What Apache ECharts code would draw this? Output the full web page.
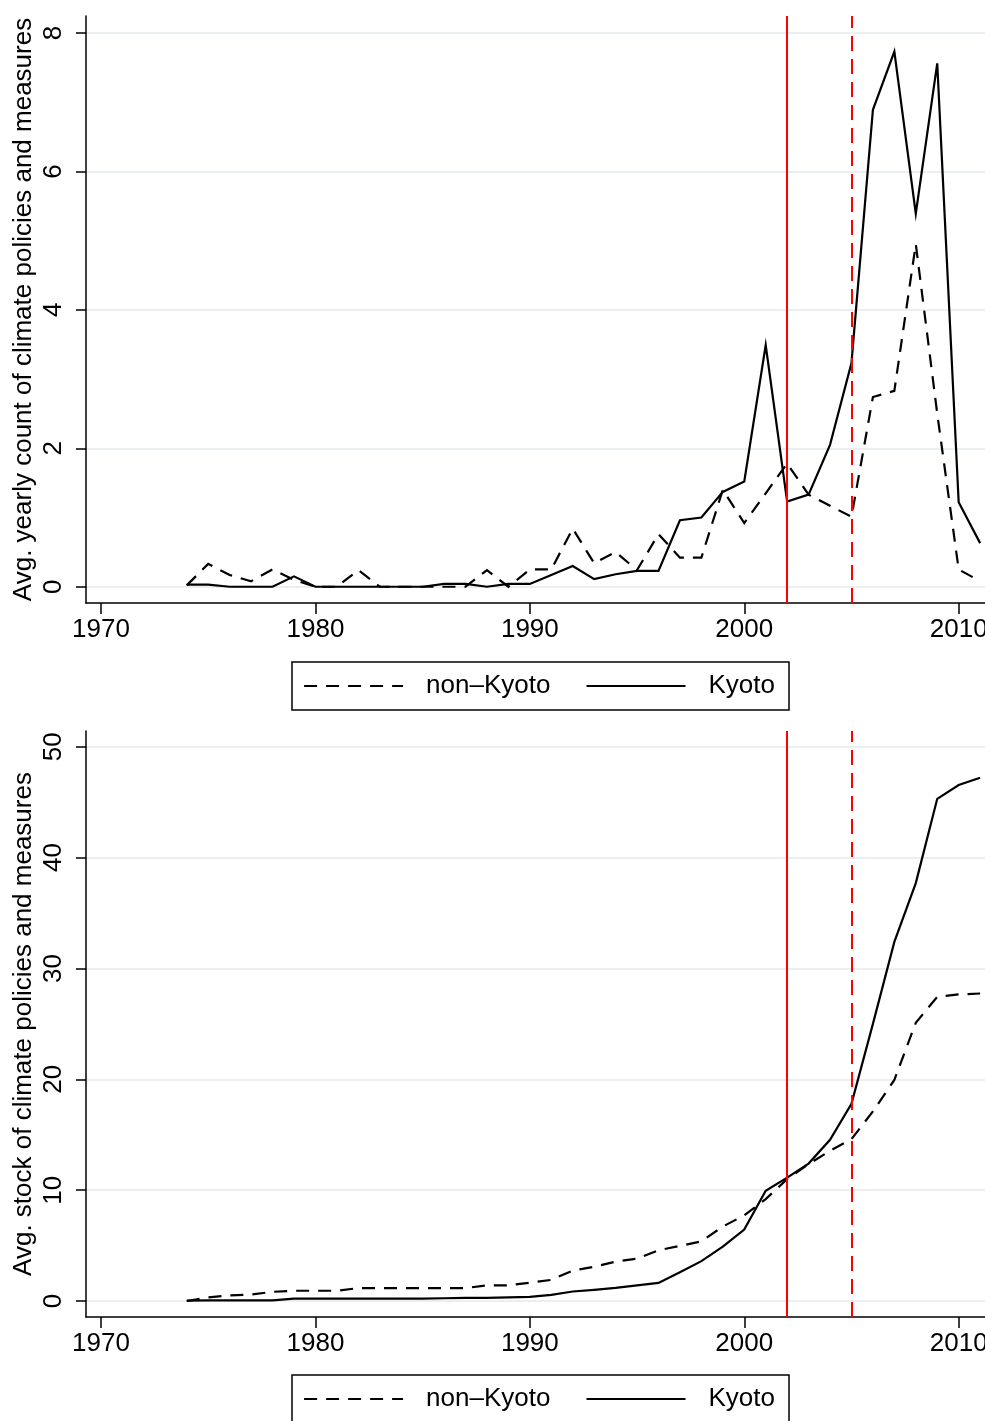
<!DOCTYPE html>
<html>
<head>
<meta charset="utf-8">
<script src="https://cdn.jsdelivr.net/npm/echarts@6/dist/echarts.min.js"></script>
<style>
  html, body { margin: 0; padding: 0; background: #fff; }
  #chart { width: 985px; height: 1421px; }
</style>
</head>
<body>
<div id="chart"></div>
<script>
// Years covered by both panels
const years = [1974, 1975, 1976, 1977, 1978, 1979, 1980, 1981, 1982, 1983,
               1984, 1985, 1986, 1987, 1988, 1989, 1990, 1991, 1992, 1993,
               1994, 1995, 1996, 1997, 1998, 1999, 2000, 2001, 2002, 2003,
               2004, 2005, 2006, 2007, 2008, 2009, 2010, 2011];

// Panel 1: average yearly count of new climate policies and measures
const countNonKyoto = [0.02, 0.33, 0.17, 0.08, 0.25, 0.10, 0, 0, 0.24, 0,
                       0, 0, 0, 0, 0.24, 0, 0.25, 0.25, 0.84, 0.34,
                       0.50, 0.24, 0.76, 0.42, 0.42, 1.40, 0.92, 1.35, 1.78, 1.33,
                       1.17, 1.01, 2.74, 2.83, 4.95, 2.50, 0.25, 0.08];
const countKyoto    = [0.03, 0.03, 0, 0, 0, 0.15, 0, 0, 0, 0,
                       0, 0, 0.04, 0.04, 0, 0.04, 0.04, 0.17, 0.30, 0.11,
                       0.18, 0.23, 0.23, 0.96, 1.00, 1.37, 1.52, 3.49, 1.23, 1.33,
                       2.05, 3.23, 6.89, 7.73, 5.39, 7.56, 1.22, 0.63];

// Panel 2: average stock of climate policies and measures
const stockNonKyoto = [0, 0.33, 0.50, 0.58, 0.83, 0.93, 0.93, 0.93, 1.17, 1.17,
                       1.17, 1.17, 1.17, 1.17, 1.41, 1.41, 1.66, 1.91, 2.75, 3.09,
                       3.55, 3.83, 4.58, 4.97, 5.39, 6.72, 7.73, 9.20, 11.0, 12.35,
                       13.55, 14.6, 17.1, 19.95, 25.1, 27.44, 27.66, 27.74];
const stockKyoto    = [0.03, 0.06, 0.06, 0.06, 0.06, 0.21, 0.21, 0.21, 0.21, 0.21,
                       0.21, 0.21, 0.25, 0.29, 0.29, 0.33, 0.37, 0.55, 0.86, 1.00,
                       1.18, 1.41, 1.63, 2.60, 3.60, 4.90, 6.44, 9.95, 11.13, 12.4,
                       14.55, 17.8, 25.0, 32.4, 37.7, 45.3, 46.55, 47.2];

// Tick labels
const xTicks = [1970, 1980, 1990, 2000, 2010];
const countTicks = [0, 2, 4, 6, 8];
const stockTicks = [0, 10, 20, 30, 40, 50];

// Reference years: Kyoto ratification (solid) and entry into force (dashed)
const refSolidYear = [2002];
const refDashedYear = [2005];

const seriesNames = ['non\u2013Kyoto', 'Kyoto'];
const panelTitles = ['Avg. yearly count of climate policies and measures',
                     'Avg. stock of climate policies and measures'];

const FONT = "'Liberation Sans', Arial, Helvetica, sans-serif";
const FS = 26;
const GRID_COLOR = '#e9eff2';
const BLACK_DASH = [13, 9];
const RED_DASH = [15, 8];
const LINE_W = 2.2;

const pairs = (vals) => years.map((y, i) => [y, vals[i]]);

function xAxisFor(gridIndex) {
  return {
    type: 'value', gridIndex: gridIndex,
    min: 1969.3, max: 2013,
    axisLine: { show: true, onZero: false, lineStyle: { color: '#000', width: 1.5 } },
    axisTick: { show: true, length: 11, lineStyle: { color: '#000', width: 1.5 }, customValues: xTicks },
    axisLabel: { show: true, customValues: xTicks, margin: 14, color: '#000',
                 fontSize: FS, fontFamily: FONT, formatter: (v) => String(v) },
    splitLine: { show: false }
  };
}

function yAxisFor(gridIndex, min, max, ticks, title) {
  return {
    type: 'value', gridIndex: gridIndex, min: min, max: max,
    name: title, nameLocation: 'middle', nameRotate: 90, nameGap: 49,
    nameMoveOverlap: false,
    nameTextStyle: { color: '#000', fontSize: FS, fontFamily: FONT },
    axisLine: { show: true, lineStyle: { color: '#000', width: 1.5 } },
    axisTick: { show: true, length: 10, lineStyle: { color: '#000', width: 1.5 }, customValues: ticks },
    axisLabel: { show: true, customValues: ticks, rotate: 90, margin: 19, color: '#000',
                 fontSize: FS, fontFamily: FONT, formatter: (v) => String(v) },
    splitLine: { show: true, lineStyle: { color: GRID_COLOR, width: 2 } }
  };
}

function refLines() {
  return {
    silent: true, symbol: 'none', animation: false,
    label: { show: false },
    data: [
      ...refSolidYear.map(v => ({ xAxis: v, lineStyle: { color: '#ff0000', width: 2, type: 'solid' } })),
      ...refDashedYear.map(v => ({ xAxis: v, lineStyle: { color: '#ff0000', width: 2, type: RED_DASH } }))
    ]
  };
}

function lineSeries(name, vals, gridIndex, dashed, withRefs) {
  const s = {
    name: name, type: 'line', xAxisIndex: gridIndex, yAxisIndex: gridIndex,
    data: pairs(vals), symbol: 'none', showSymbol: false, animation: false,
    lineStyle: { color: '#000', width: LINE_W, type: dashed ? BLACK_DASH : 'solid', join: 'miter' },
    itemStyle: { color: '#000' },
    z: 3
  };
  if (withRefs) s.markLine = refLines();
  return s;
}

function legendAt(top) {
  return {
    data: seriesNames,
    left: 292, top: top,
    orient: 'horizontal',
    padding: [11, 14, 11, 11],
    itemGap: 35, itemWidth: 99, itemHeight: 14,
    borderColor: '#000', borderWidth: 1.5, borderRadius: 0,
    selectedMode: false,
    itemStyle: { opacity: 0, borderWidth: 0 },
    lineStyle: { width: LINE_W },
    textStyle: { color: '#000', fontSize: FS, fontFamily: FONT, padding: [0, 0, 0, 18] }
  };
}

const option = {
  backgroundColor: '#fff',
  animation: false,
  grid: [
    { left: 86, top: 16, width: 937, height: 587, containLabel: false, outerBoundsMode: 'none' },
    { left: 86, top: 731, width: 937, height: 586, containLabel: false, outerBoundsMode: 'none' }
  ],
  xAxis: [xAxisFor(0), xAxisFor(1)],
  yAxis: [
    yAxisFor(0, -0.235, 8.245, countTicks, panelTitles[0]),
    yAxisFor(1, -1.44, 51.42, stockTicks, panelTitles[1])
  ],
  legend: [legendAt(662), legendAt(1375)],
  series: [
    lineSeries(seriesNames[0], countNonKyoto, 0, true, false),
    lineSeries(seriesNames[1], countKyoto, 0, false, true),
    lineSeries(seriesNames[0], stockNonKyoto, 1, true, false),
    lineSeries(seriesNames[1], stockKyoto, 1, false, true)
  ]
};

const chart = echarts.init(document.getElementById('chart'), null, { renderer: 'canvas' });
chart.setOption(option);
</script>
</body>
</html>
